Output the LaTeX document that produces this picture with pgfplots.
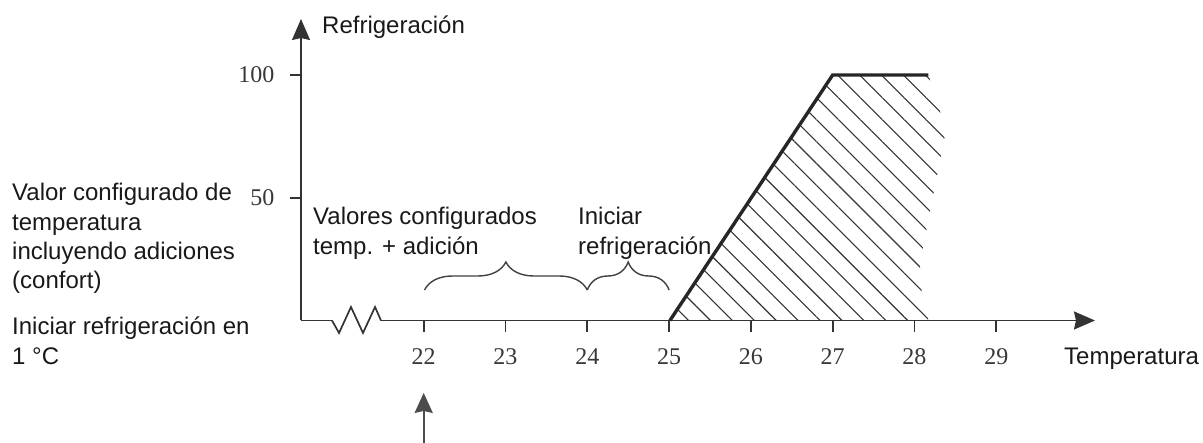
\documentclass[border=0pt]{standalone}
\usepackage{fontspec}
\setmainfont{Liberation Sans}
\newfontfamily\serifnum{Liberation Serif}
\usepackage{pgfplots}
\pgfplotsset{compat=1.18}
\usetikzlibrary{arrows.meta,patterns.meta,decorations.pathreplacing}

\newcommand{\lbl}{\fontsize{24}{29}\selectfont}

\begin{document}
\begin{tikzpicture}
\useasboundingbox (0,0) rectangle (1203pt,443pt);
\begin{axis}[
  at={(301pt,122.5pt)}, anchor=south west,
  scale only axis, width=794pt, height=301.5pt,
  xmin=20.5, xmax=30.207, ymin=0, ymax=122.8,
  axis lines=left,
  axis line style={line width=1.7pt, black!80, -{Stealth[length=21pt,width=18pt,inset=2pt]}},
  xtick={22,...,29}, ytick={50,100},
  tick align=outside,
  major tick length=11.5pt,
  tick style={line width=1.7pt, black!80},
  tick label style={font=\fontsize{24}{24}\selectfont\serifnum, text=black!78, inner sep=0pt},
  /pgf/number format/assume math mode=true,
  xticklabel style={anchor=base, yshift=-32.5pt},
  yticklabel style={anchor=east, xshift=-15pt},
  clip=false,
]
% break in the x axis
\addplot[white, line width=4pt, forget plot] coordinates {(20.879,0) (21.478,0)};
\addplot[black!80, line width=1.7pt, line join=miter] coordinates {
  (20.879,0) (20.965,-5.09) (21.111,5.5) (21.258,-5.09) (21.405,5.5) (21.478,0)};

% hatched area
\addplot[draw=none, pattern={Lines[angle=-45,distance=15.5pt,line width=1.1pt]}, pattern color=black!80] coordinates {
  (25.01,0) (27,100) (28.17,100) (28.385,77.6) (28.067,23.4) (28.08,13.2) (28.17,0)} -- cycle;

% cooling curve
\addplot[black!85, line width=3.4pt, line join=miter] coordinates {(25.01,0) (27,100) (28.17,100)};

% braces
\draw[black!75, line width=1.4pt, decorate, decoration={brace, amplitude=28pt}]
  (axis cs:22.01,12.42) -- (axis cs:24.0,12.42);
\draw[black!75, line width=1.4pt, decorate, decoration={brace, amplitude=28pt}]
  (axis cs:24.0,12.42) -- (axis cs:25.0,12.42);

% arrow under 22
\draw[black!70, line width=2pt, -{Stealth[length=20pt,width=18pt,inset=2pt]}]
  (axis cs:22,-49.9) -- (axis cs:22,-29.5);
\end{axis}

\begin{scope}[every node/.style={anchor=base west, inner sep=0pt, text=black!90, font=\lbl}]
\node at (322pt,409pt) {Refrigeración};
\node at (12pt,242pt) {Valor configurado de};
\node at (12pt,212pt) {temperatura};
\node at (12pt,183pt) {incluyendo adiciones};
\node at (12pt,154pt) {(confort)};
\node at (12pt,108pt) {Iniciar refrigeración en};
\node at (12pt,78pt) {1 °C};
\node at (313pt,218pt) {Valores configurados};
\node at (313pt,188pt) {temp. + adición};
\node at (578pt,218pt) {Iniciar};
\node at (578pt,188pt) {refrigeración};
\node at (1064pt,78pt) {Temperatura};
\end{scope}
\end{tikzpicture}
\end{document}
